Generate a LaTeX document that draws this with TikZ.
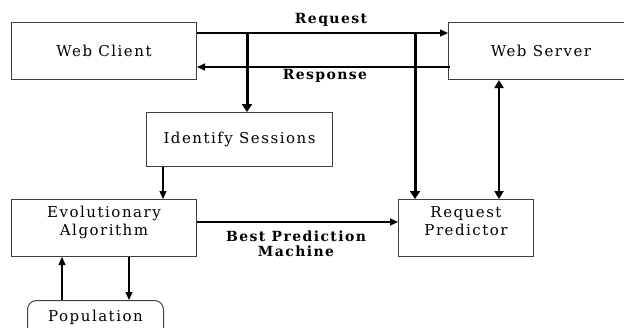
\documentclass[tikz,border=0pt]{standalone}
\usepackage{fontspec}
\setmainfont{DejaVu Serif}[LetterSpace=10]
\usetikzlibrary{arrows.meta,calc}
\begin{document}
\begin{tikzpicture}[x=1pt,y=-1pt,
  box/.style={draw=black!75, line width=1pt, inner sep=0pt, anchor=north west,
    font=\fontsize{15}{18.5}\selectfont},
  lbl/.style={font=\bfseries\fontsize{14}{15.5}\selectfont, inner sep=0pt},
  thinarrow/.style={line width=1.2pt, -{Triangle[length=8pt,width=7pt]}},
  medarrow/.style={line width=2pt, {Triangle[length=8pt,width=9pt]}-{Triangle[length=8pt,width=9pt]}},
  thickarrow/.style={line width=3pt, -{Triangle[length=8pt,width=10pt]}}]
\clip (0,0) rectangle (624,327);
\fill[white] (0,0) rectangle (624,327);

% boxes
\node[box, minimum width=185, minimum height=57] (client) at (11,22) {Web Client};
\node[box, minimum width=185, minimum height=57] (server) at (448,22) {Web Server};
\node[box, minimum width=186, minimum height=54] (ident) at (146,112) {Identify Sessions};
\node[box, minimum width=185, minimum height=57, align=center, text depth=14pt]
  (ea) at (11,199) {Evolutionary\\Algorithm};
\node[box, minimum width=135, minimum height=57, align=center, text depth=14pt]
  (pred) at (398,199) {Request\\Predictor};
\node[box, rounded corners=9pt, minimum width=136, minimum height=60, text depth=30pt]
  (pop) at (27,300) {Population};

% request / response between client and server
\draw[thinarrow] ($(client.north east)+(0,11)$) -- ($(server.north west)+(0,11)$);
\draw[thinarrow] ($(server.north west)+(2,45)$) -- ($(client.north east)+(0,45)$);
\node[lbl] (reqlbl) at (331,20) {Request};
\node[lbl] (reslbl) at (325,76) {Response};

% taps on the request line
\coordinate (tapA) at (247,33);
\coordinate (tapB) at (415,33);
\draw[thickarrow] (tapA) -- (tapA |- ident.north);
\draw[thickarrow] (tapB) -- (tapB |- pred.north);

% server <-> predictor
\draw[medarrow] ($(server.south west)+(51,0)$) -- ($(pred.north west)+(101,0)$);

% sessions -> evolutionary algorithm
\draw[thinarrow] ($(ident.south west)+(17,0)$) -- ($(ea.north west)+(152,0)$);

% best prediction machine
\draw[thinarrow] ($(ea.north east)+(0,23)$) -- ($(pred.north west)+(0,23)$);
\node[lbl, align=center] (bestlbl) at (296,244) {Best Prediction\\Machine};

% algorithm <-> population
\draw[thinarrow] ($(ea.south west)+(118,0)$) -- ($(pop.north west)+(102,0)$);
\draw[thinarrow] ($(pop.north west)+(35,0)$) -- ($(ea.south west)+(51,0)$);
\end{tikzpicture}
\end{document}
